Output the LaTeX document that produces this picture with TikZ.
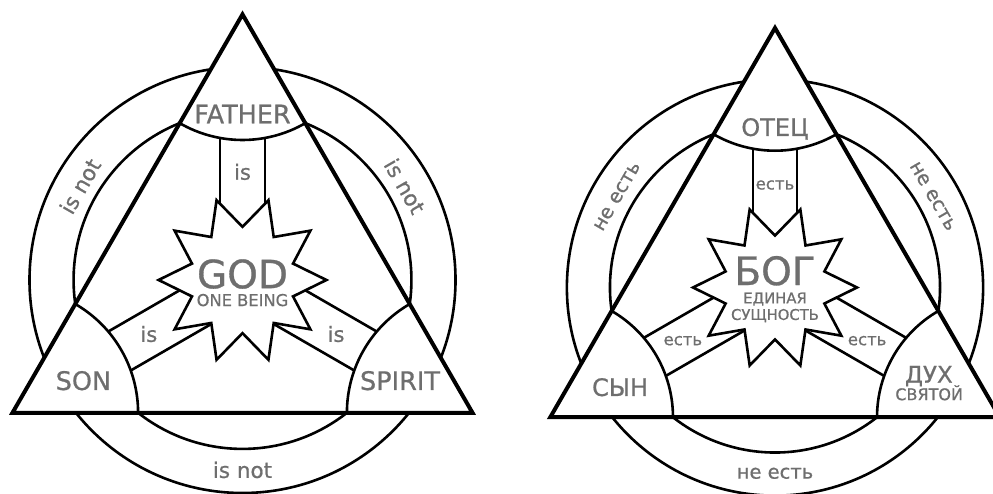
\documentclass[tikz,border=0pt]{standalone}
\usepackage{fontspec}
\setmainfont[FakeBold=0.7]{DejaVu Sans}
\definecolor{tgray}{RGB}{110,110,110}
\tikzset{
  thinline/.style={line width=2.6pt, line join=miter},
  thickline/.style={line width=4pt, line join=miter},
  lbl/.style={text=tgray, inner sep=0pt, outer sep=0pt},
}
\newcommand{\fsz}[1]{\fontsize{#1}{#1}\selectfont}
\newcommand{\trinitygeom}{%
  \draw[thinline] (0,0) circle (0.802);
  \draw[thinline] (0,0) circle (0.636);
  \fill[white] (90:1) -- (210:1) -- (330:1) -- cycle;
  \foreach \k in {90,210,330} {
    \begin{scope}[rotate=\k-90]
      \draw[thinline] (-0.0847,0.5347) -- (-0.0847,0.17);
      \draw[thinline] (0.0847,0.5347) -- (0.0847,0.17);
    \end{scope}
  }
  \draw[thinline, fill=white] (0:0.316)
    \foreach \i in {0,...,9} { -- ({\i*36+18}:0.2) -- ({\i*36+36}:0.316) } -- cycle;
  \draw[thinline] (90:1) ++(240:0.4729) arc[start angle=240, end angle=300, radius=0.4729];
  \draw[thinline] (210:1) ++(0:0.4729) arc[start angle=0, end angle=60, radius=0.4729];
  \draw[thinline] (330:1) ++(120:0.4729) arc[start angle=120, end angle=180, radius=0.4729];
  \draw[thickline] (90:1) -- (210:1) -- (330:1) -- cycle;
}
\begin{document}
\begin{tikzpicture}[x=1pt, y=1pt]
\useasboundingbox (0,0) rectangle (993,494);
\clip (0,0) rectangle (993,494);
\fill[white] (0,0) rectangle (993,494);
% left diagram
\begin{scope}[shift={(242.5,214)}, scale=265.6]
  \trinitygeom
  \node[lbl, anchor=base] (father) at (0,0.590) {\fsz{25.5}FATHER};
  \node[lbl, anchor=base] (son) at (-0.599,-0.414) {\fsz{25.5}SON};
  \node[lbl, anchor=base] (spirit) at (0.593,-0.414) {\fsz{25.5}SPIRIT};
  \node[lbl, anchor=base] (god) at (0,-0.031) {\fsz{39}GOD};
  \node[lbl, anchor=base] (onebeing) at (0,-0.098) {\fsz{16.3}ONE BEING};
  \node[lbl] (is1) at (90:0.407) {\fsz{21}is};
  \node[lbl] (is2) at (210:0.407) {\fsz{21}is};
  \node[lbl] (is3) at (330:0.407) {\fsz{21}is};
  \node[lbl, rotate=60] (isnot1) at (150:0.706) {\fsz{21.5}is not};
  \node[lbl, rotate=-60] (isnot2) at (30:0.706) {\fsz{21.5}is not};
  \node[lbl] (isnot3) at (270:0.715) {\fsz{21.5}is not};
\end{scope}
% right diagram
\begin{scope}[shift={(775,206.5)}, scale=259.5]
  \trinitygeom
  \node[lbl, anchor=base] (otec) at (0,0.584) {\fsz{24}ОТЕЦ};
  \node[lbl, anchor=base] (syn) at (-0.597,-0.418) {\fsz{24}СЫН};
  \node[lbl, anchor=base] (duh) at (0.593,-0.367) {\fsz{23}ДУХ};
  \node[lbl, anchor=base] (svyatoy) at (0.594,-0.434) {\fsz{16}СВЯТОЙ};
  \node[lbl, anchor=base] (bog) at (0,0.0096) {\fsz{39}БОГ};
  \node[lbl, anchor=base] (edinaya) at (0,-0.061) {\fsz{14.8}ЕДИНАЯ};
  \node[lbl, anchor=base] (sush) at (0,-0.125) {\fsz{14.8}СУЩНОСТЬ};
  \node[lbl] (est1) at (90:0.395) {\fsz{16.5}есть};
  \node[lbl] (est2) at (210:0.41) {\fsz{16.5}есть};
  \node[lbl] (est3) at (330:0.41) {\fsz{16.5}есть};
  \node[lbl, rotate=60] (neest1) at (150:0.703) {\fsz{19.5}не есть};
  \node[lbl, rotate=-60] (neest2) at (30:0.703) {\fsz{19.5}не есть};
  \node[lbl] (neest3) at (270:0.716) {\fsz{19.5}не есть};
\end{scope}
\end{tikzpicture}
\end{document}
